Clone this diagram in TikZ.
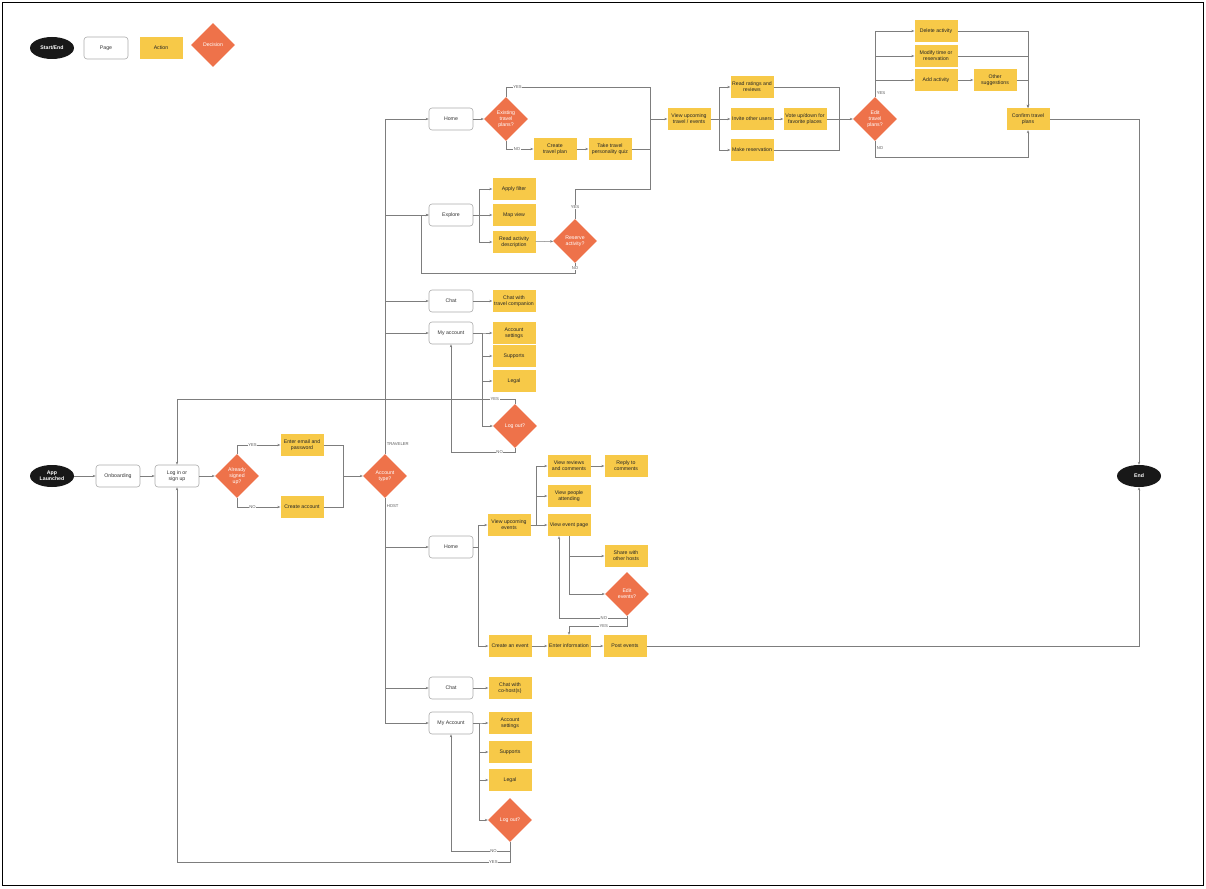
\documentclass[tikz,border=0pt]{standalone}
\usepackage{fontspec}
\setmainfont{Liberation Sans}
\usetikzlibrary{shapes.geometric, arrows.meta, positioning, calc}
\definecolor{actyellow}{RGB}{247,201,72}
\definecolor{decorange}{RGB}{238,114,74}
\definecolor{termblack}{RGB}{24,24,24}
\definecolor{linegray}{RGB}{125,125,125}
\tikzset{
    basebox/.style={align=center, inner sep=1pt, font=\fontsize{5.2}{6.2}\selectfont},
    termbox/.style={basebox, ellipse, fill=termblack, text=white,
                    minimum width=44pt, minimum height=22pt, font=\fontsize{5.2}{6.2}\selectfont\bfseries},
    pagebox/.style={basebox, rectangle, rounded corners=3pt, draw=gray!65, line width=0.6pt,
                    fill=white, minimum width=44pt, minimum height=22pt, text=black!80},
    actbox/.style={basebox, rectangle, fill=actyellow, minimum width=43pt,
                   minimum height=22pt, text=black!85},
    decbox/.style={basebox, diamond, aspect=1, fill=decorange, text=white,
                   minimum width=44pt, minimum height=44pt, inner sep=0pt},
    flowline/.style={draw=linegray, line width=0.5pt},
    arrow/.style={flowline, -{Stealth[length=3pt, width=2.4pt]}},
    edgelbl/.style={font=\fontsize{4.2}{5}\selectfont, fill=white, inner sep=0.6pt, text=black!65},
}
\begin{document}
\begin{tikzpicture}[x=1pt, y=-1pt]
    \useasboundingbox (0,0) rectangle (1206,888);
    \draw[line width=0.9pt] (2,2) rectangle (1203,885);
    % legend
    \node[termbox] (lgterm) at (52,48) {Start/End};
    \node[pagebox] (lgpage) at (106,48) {Page};
    \node[actbox] (lgact) at (161,48) {Action};
    \node[decbox] (lgdec) at (213,45) {Decision};
    % entry
    \node[termbox] (start) at (52,476) {App\\Launched};
    \node[pagebox] (onboard) at (118,476) {Onboarding};
    \node[pagebox] (login) at (177,476) {Log in or\\sign up};
    \node[decbox] (signed) at (237,476) {Already\\signed\\up?};
    \node[actbox] (email) at (302,445) {Enter email and\\password};
    \node[actbox] (createacc) at (302,507) {Create account};
    \node[decbox] (acctype) at (385,476) {Account\\type?};
    \node[termbox] (end) at (1139,476) {End};
    % traveler
    \node[pagebox] (thome) at (451,119) {Home};
    \node[decbox] (existing) at (506,119) {Existing\\travel\\plans?};
    \node[actbox] (createplan) at (555,149) {Create\\travel plan};
    \node[actbox] (quiz) at (610,149) {Take travel\\personality quiz};
    \node[actbox] (viewtravel) at (689,119) {View upcoming\\travel / events};
    \node[actbox] (ratings) at (752,87) {Read ratings and\\reviews};
    \node[actbox] (invite) at (752,119) {Invite other users};
    \node[actbox] (vote) at (805,119) {Vote up/down for\\favorite places};
    \node[actbox] (reservation) at (752,150) {Make reservation};
    \node[decbox] (editplan) at (875,119) {Edit\\travel\\plans?};
    \node[actbox] (delete) at (936,31) {Delete activity};
    \node[actbox] (modify) at (936,56) {Modify time or\\reservation};
    \node[actbox] (addact) at (936,80) {Add activity};
    \node[actbox] (othersugg) at (995,80) {Other\\suggestions};
    \node[actbox] (confirm) at (1028,119) {Confirm travel\\plans};
    \node[pagebox] (explore) at (451,215) {Explore};
    \node[actbox] (filter) at (514,189) {Apply filter};
    \node[actbox] (mapview) at (514,215) {Map view};
    \node[actbox] (readdesc) at (514,242) {Read activity\\description};
    \node[decbox] (reserveact) at (575,241) {Reserve\\activity?};
    \node[pagebox] (tchat) at (451,301) {Chat};
    \node[actbox] (tchatcomp) at (514,301) {Chat with\\travel companion};
    \node[pagebox] (tacct) at (451,333) {My account};
    \node[actbox] (tsettings) at (514,333) {Account\\settings};
    \node[actbox] (tsupports) at (514,356) {Supports};
    \node[actbox] (tlegal) at (514,381) {Legal};
    \node[decbox] (tlogout) at (515,426) {Log out?};
    % host
    \node[pagebox] (hhome) at (451,547) {Home};
    \node[actbox] (hview) at (509,525) {View upcoming\\events};
    \node[actbox] (hreviews) at (569,466) {View reviews\\and comments};
    \node[actbox] (hreply) at (626,466) {Reply to\\comments};
    \node[actbox] (hpeople) at (569,496) {View people\\attending};
    \node[actbox] (hpage) at (569,525) {View event page};
    \node[actbox] (hshare) at (626,556) {Share with\\other hosts};
    \node[decbox] (hedit) at (627,594) {Edit\\events?};
    \node[actbox] (hcreate) at (510,646) {Create an event};
    \node[actbox] (henter) at (569,646) {Enter information};
    \node[actbox] (hpost) at (625,646) {Post events};
    \node[pagebox] (hchat) at (451,688) {Chat};
    \node[actbox] (hchatco) at (510,688) {Chat with\\co-host(s)};
    \node[pagebox] (hacct) at (451,723) {My Account};
    \node[actbox] (hsettings) at (510,723) {Account\\settings};
    \node[actbox] (hsupports) at (510,752) {Supports};
    \node[actbox] (hlegal) at (510,780) {Legal};
    \node[decbox] (hlogout) at (510,820) {Log out?};
    % joints
    \coordinate (accjoin) at (343,476);
    \coordinate (jv) at (650,119);
    \coordinate (votejoin) at (839,119);
    \coordinate (nolp) at (421,273);
    % entry flow
    \draw[arrow] (start) -- (onboard);
    \draw[arrow] (onboard) -- (login);
    \draw[arrow] (login) -- (signed);
    \draw[arrow] (signed.north) |- node[edgelbl, pos=.68] {YES} (email.west);
    \draw[arrow] (signed.south) |- node[edgelbl, pos=.68] {NO} (createacc.west);
    \draw[flowline] (email.east) -| (accjoin);
    \draw[flowline] (createacc.east) -| (accjoin);
    \draw[arrow] (accjoin) -- (acctype.west);
    % traveler trunk
    \draw[arrow] (acctype.north) |- node[edgelbl, pos=.015, anchor=west, xshift=1pt] {TRAVELER} (thome.west);
    \draw[arrow] (acctype.north) |- (explore.west);
    \draw[arrow] (acctype.north) |- (tchat.west);
    \draw[arrow] (acctype.north) |- (tacct.west);
    % traveler home
    \draw[arrow] (thome) -- (existing);
    \draw[flowline] (existing.north) -- ++(0,-10) -| node[edgelbl, pos=.04] {YES} (jv);
    \draw[arrow] (existing.south) |- node[edgelbl, pos=.7] {NO} (createplan.west);
    \draw[arrow] (createplan) -- (quiz);
    \draw[flowline] (quiz.east) -| (jv);
    \draw[flowline] (reserveact.north) -- node[edgelbl, pos=.4] {YES} ++(0,-30) -| (jv);
    \draw[arrow] (jv) -- (viewtravel.west);
    \draw[arrow] (viewtravel.east) -- ++(9,0) |- (ratings.west);
    \draw[arrow] (viewtravel) -- (invite);
    \draw[arrow] (viewtravel.east) -- ++(9,0) |- (reservation.west);
    \draw[arrow] (invite) -- (vote);
    \draw[flowline] (ratings.east) -| (votejoin);
    \draw[flowline] (reservation.east) -| (votejoin);
    \draw[arrow] (vote) -- (editplan);
    \draw[arrow] (editplan.north) |- node[edgelbl, pos=.12, anchor=west, xshift=1pt] {YES} (addact.west);
    \draw[arrow] (editplan.north) |- (modify.west);
    \draw[arrow] (editplan.north) |- (delete.west);
    \draw[arrow] (addact) -- (othersugg);
    \draw[arrow] (delete.east) -| (confirm.north);
    \draw[arrow] (modify.east) -| (confirm.north);
    \draw[arrow] (othersugg.east) -| (confirm.north);
    \draw[arrow] (editplan.south) -- node[edgelbl, pos=.45, anchor=west, xshift=1pt] {NO} ++(0,16) -| (confirm.south);
    \draw[arrow] (confirm.east) -| (end.north);
    % explore
    \draw[arrow] (explore.east) -- ++(6,0) |- (filter.west);
    \draw[arrow] (explore) -- (mapview);
    \draw[arrow] (explore.east) -- ++(6,0) |- (readdesc.west);
    \draw[arrow] (readdesc) -- (reserveact);
    \draw[arrow] (reserveact.south) |- node[edgelbl, pos=.25] {NO} (nolp) |- (explore.west);
    % chat and account
    \draw[arrow] (tchat) -- (tchatcomp);
    \draw[arrow] (tacct.east) -- ++(9,0) |- (tsettings.west);
    \draw[arrow] (tacct.east) -- ++(9,0) |- (tsupports.west);
    \draw[arrow] (tacct.east) -- ++(9,0) |- (tlegal.west);
    \draw[arrow] (tacct.east) -- ++(9,0) |- (tlogout.west);
    \draw[arrow] (tlogout.north) -- ++(0,-5) -| node[edgelbl, pos=.03] {YES} (login.north);
    \draw[arrow] (tlogout.south) -- ++(0,4) -| node[edgelbl, pos=.12] {NO} (tacct.south);
    % host trunk
    \draw[arrow] (acctype.south) |- node[edgelbl, pos=.08, anchor=west, xshift=1pt] {HOST} (hhome.west);
    \draw[arrow] (acctype.south) |- (hchat.west);
    \draw[arrow] (acctype.south) |- (hacct.west);
    % host home
    \draw[arrow] (hhome.east) -- ++(5,0) |- (hview.west);
    \draw[arrow] (hhome.east) -- ++(5,0) |- (hcreate.west);
    \draw[arrow] (hview.east) -- ++(6,0) |- (hreviews.west);
    \draw[arrow] (hview.east) -- ++(6,0) |- (hpeople.west);
    \draw[arrow] (hview) -- (hpage);
    \draw[arrow] (hreviews) -- (hreply);
    \draw[arrow] (hpage.south) |- (hshare.west);
    \draw[arrow] (hpage.south) |- (hedit.west);
    \draw[arrow] (hedit.south) -- ++(0,2) -| node[edgelbl, pos=.17] {NO} ([xshift=-10pt]hpage.south);
    \draw[arrow] (hedit.south) -- ++(0,10) -| node[edgelbl, pos=.2] {YES} (henter.north);
    \draw[arrow] (hcreate) -- (henter);
    \draw[arrow] (henter) -- (hpost);
    \draw[arrow] (hpost.east) -| (end.south);
    % host chat and account
    \draw[arrow] (hchat) -- (hchatco);
    \draw[arrow] (hacct.east) -- ++(6,0) |- (hsettings.west);
    \draw[arrow] (hacct.east) -- ++(6,0) |- (hsupports.west);
    \draw[arrow] (hacct.east) -- ++(6,0) |- (hlegal.west);
    \draw[arrow] (hacct.east) -- ++(6,0) |- (hlogout.west);
    \draw[arrow] (hlogout.south) -- ++(0,9) -| node[edgelbl, pos=.14] {NO} (hacct.south);
    \draw[arrow] (hlogout.south) -- ++(0,20) -| node[edgelbl, pos=.025] {YES} (login.south);
\end{tikzpicture}
\end{document}
